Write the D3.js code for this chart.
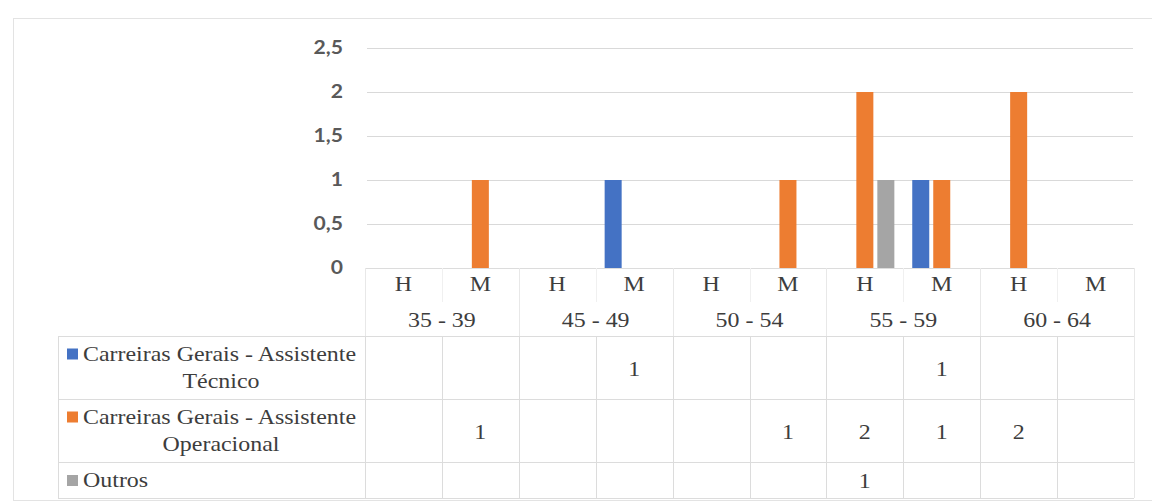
<!DOCTYPE html>
<html>
<head>
<meta charset="utf-8">
<script src="https://cdn.jsdelivr.net/npm/d3@7"></script>
<style>
  html, body { margin: 0; padding: 0; background: #ffffff; }
  svg { display: block; }
</style>
</head>
<body>
<svg id="chart" width="1152" height="503"></svg>
<script>
// Age groups and sex split (H = homens, M = mulheres)
const ageGroups = ["35 - 39", "45 - 49", "50 - 54", "55 - 59", "60 - 64"];
const sexes = ["H", "M"];

// Series, one value per (age group, sex) column; null = empty cell
const seriesNames = [
  "Carreiras Gerais - Assistente Técnico",
  "Carreiras Gerais - Assistente Operacional",
  "Outros"
];
const legendLines = [
  ["Carreiras Gerais - Assistente", "Técnico"],
  ["Carreiras Gerais - Assistente", "Operacional"],
  ["Outros"]
];
const assistenteTecnico     = [null, null, null, 1, null, null, null, 1, null, null];
const assistenteOperacional = [null, 1, null, null, null, 1, 2, 1, 2, null];
const outros                = [null, null, null, null, null, null, 1, null, null, null];
const seriesColors = ["#4472C4", "#ED7D31", "#A5A5A5"];

const yTicks = [0, 0.5, 1, 1.5, 2, 2.5];

// ---- layout ----
const SX = 1.14;                 // horizontal text stretch
const plotLeft = 365, plotRight = 1134;
const yTop = 48, yZero = 268;
const headerBottom = 336;
const rowBounds = [336, 399, 462, 498];
const tableLeft = 58;
const serifFont = "'Liberation Serif', 'Times New Roman', 'DejaVu Serif', serif";
const sansFont = "Lato, 'Open Sans', sans-serif";

const svg = d3.select("#chart");

// outer frame
svg.append("rect")
  .attr("x", 13.5).attr("y", 18.5).attr("width", 1160).attr("height", 482)
  .attr("fill", "none").attr("stroke", "#E3E3E3").attr("stroke-width", 1);

const columns = [];
ageGroups.forEach(a => sexes.forEach(s => columns.push({ age: a, sex: s, key: a + "|" + s })));

const x0 = d3.scaleBand().domain(columns.map(c => c.key)).range([plotLeft, plotRight]);
const xInner = d3.scaleBand().domain(seriesNames)
  .range([-31.5, 31.5]).paddingInner(0.19).paddingOuter(0.095);
const y = d3.scaleLinear().domain([0, 2.5]).range([yZero, yTop]);

const locale = d3.formatLocale({ decimal: ",", thousands: ".", grouping: [3], currency: ["€", ""] });
const fmt = locale.format("~g");

// gridlines
const grid = svg.append("g").attr("transform", `translate(${plotLeft + 2},0)`)
  .call(d3.axisRight(y).tickValues(yTicks.filter(t => t > 0)).tickSize(plotRight - plotLeft - 3).tickFormat(""));
grid.select(".domain").remove();
grid.selectAll("line").attr("stroke", "#D9D9D9").attr("stroke-width", 1);

// y axis labels
const yAxis = svg.append("g").attr("transform", `translate(${plotLeft},0)`)
  .call(d3.axisLeft(y).tickValues(yTicks).tickSize(0).tickPadding(19.3).tickFormat(fmt));
yAxis.attr("font-family", sansFont).attr("font-size", 18.5).attr("font-weight", 700);
yAxis.select(".domain").remove();
yAxis.selectAll("text").attr("fill", "#595959").attr("transform", `scale(${SX},1)`);

// bars
const seriesData = [assistenteTecnico, assistenteOperacional, outros];
seriesData.forEach((vals, si) => {
  const pts = columns.map((c, i) => ({ col: c, v: vals[i] })).filter(d => d.v != null);
  svg.append("g").selectAll("rect").data(pts).join("rect")
    .attr("x", d => x0(d.col.key) + x0.bandwidth() / 2 + xInner(seriesNames[si]))
    .attr("width", xInner.bandwidth())
    .attr("y", d => y(d.v))
    .attr("height", d => y(0) - y(d.v))
    .attr("fill", seriesColors[si]);
});

// ---- data table ----
const lines = svg.append("g").attr("stroke-width", 1).attr("shape-rendering", "crispEdges");
const lc = "#DCDCDC";
// header: top line, group separators, faint H/M separators
lines.append("line").attr("x1", plotLeft).attr("x2", plotRight).attr("y1", yZero + 0.5).attr("y2", yZero + 0.5).attr("stroke", lc);
ageGroups.forEach(a => {
  const xl = x0(a + "|H");
  lines.append("line").attr("x1", xl + 0.5).attr("x2", xl + 0.5).attr("y1", yZero).attr("y2", headerBottom).attr("stroke", "#E8E8E8");
  const xm = x0(a + "|M");
  lines.append("line").attr("x1", xm + 0.5).attr("x2", xm + 0.5).attr("y1", yZero).attr("y2", 302).attr("stroke", "#F0F0F0");
});
lines.append("line").attr("x1", plotRight + 0.5).attr("x2", plotRight + 0.5).attr("y1", yZero).attr("y2", rowBounds[3]).attr("stroke", "#E8E8E8");

// body grid
rowBounds.forEach(rb => {
  lines.append("line").attr("x1", tableLeft).attr("x2", plotRight).attr("y1", rb + 0.5).attr("y2", rb + 0.5).attr("stroke", lc);
});
lines.append("line").attr("x1", tableLeft + 0.5).attr("x2", tableLeft + 0.5).attr("y1", rowBounds[0]).attr("y2", rowBounds[3]).attr("stroke", lc);
columns.forEach(c => {
  const xv = x0(c.key);
  lines.append("line").attr("x1", xv + 0.5).attr("x2", xv + 0.5).attr("y1", rowBounds[0]).attr("y2", rowBounds[3]).attr("stroke", lc);
});

const textLayer = svg.append("g")
  .attr("font-family", serifFont).attr("font-size", 21).attr("fill", "#3d3d3d");

function addText(x, yy, str, anchor) {
  return textLayer.append("text")
    .attr("transform", `translate(${x},${yy}) scale(${SX},1)`)
    .attr("text-anchor", anchor).attr("dy", "0.35em").text(str);
}

// header labels
columns.forEach(c => addText(x0(c.key) + x0.bandwidth() / 2, 284, c.sex, "middle"));
ageGroups.forEach(a => addText(x0(a + "|H") + x0.bandwidth(), 320, a, "middle"));

// legend column + values
const legendTextX = 221;
seriesNames.forEach((name, si) => {
  const top = rowBounds[si], bot = rowBounds[si + 1];
  const mid = (top + bot) / 2;
  const ln = legendLines[si];
  if (ln.length === 2) {
    addText(83, mid - 14, ln[0], "start");
    addText(legendTextX, mid + 13, ln[1], "middle");
    svg.append("rect").attr("x", 67).attr("y", mid - 14 - 5).attr("width", 11).attr("height", 11).attr("fill", seriesColors[si]);
  } else {
    addText(83, mid, ln[0], "start");
    svg.append("rect").attr("x", 67).attr("y", mid - 5).attr("width", 11).attr("height", 11).attr("fill", seriesColors[si]);
  }
  seriesData[si].forEach((v, i) => {
    if (v != null) addText(x0(columns[i].key) + x0.bandwidth() / 2, mid + 1, fmt(v), "middle");
  });
});
</script>
</body>
</html>
